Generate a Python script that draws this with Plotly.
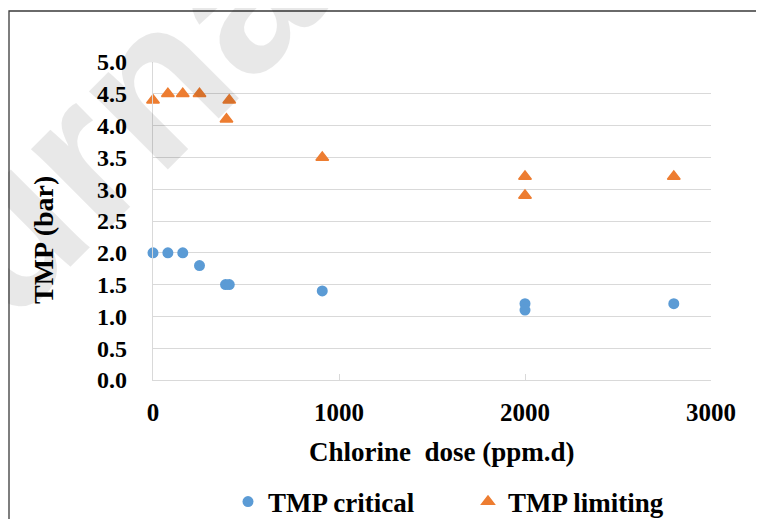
import plotly.graph_objects as go

# Data
dose_critical = [0, 80, 160, 250, 390, 410, 910, 2000, 2000, 2800]
tmp_critical = [2.0, 2.0, 2.0, 1.8, 1.5, 1.5, 1.4, 1.2, 1.1, 1.2]
dose_limiting = [0, 80, 160, 250, 395, 410, 910, 2000, 2000, 2800]
tmp_limiting = [4.4, 4.5, 4.5, 4.5, 4.1, 4.4, 3.5, 3.2, 2.9, 3.2]

x_ticks = [0, 1000, 2000, 3000]
y_ticks = [0.0, 0.5, 1.0, 1.5, 2.0, 2.5, 3.0, 3.5, 4.0, 4.5, 5.0]
y_tick_text = [f"{v:.1f}" for v in y_ticks]

x_title = "Chlorine\u00a0 dose (ppm.d)"
y_title = "TMP (bar)"

FONT = "Liberation Serif"
GRID = "#d9d9d9"

# page body adds an 8px margin; work in screen pixels and compensate
OFF = 8
W, H = 764 - OFF, 519 - OFF
L, R, T, B = 153 - OFF, 711 - OFF, 62 - OFF, 380 - OFF
pw, ph = R - L, B - T


def px(xs):
    return (xs - OFF - L) / pw


def py(ys):
    return (B - (ys - OFF)) / ph


fig = go.Figure()
fig.add_trace(go.Scatter(
    x=dose_critical, y=tmp_critical, mode="markers", name="TMP critical",
    marker=dict(symbol="circle", size=11, color="#5B9BD5"),
    cliponaxis=False,
))
fig.add_trace(go.Scatter(
    x=dose_limiting, y=tmp_limiting, mode="markers", name="TMP limiting",
    marker=dict(symbol="triangle-up", size=11, color="#ED7D31",
                line=dict(color="#ED7D31", width=1.5)),
    cliponaxis=False,
))

fig.update_layout(
    width=W, height=H,
    margin=dict(l=L, r=W - R, t=T, b=H - B, autoexpand=False),
    paper_bgcolor="white", plot_bgcolor="white",
    font=dict(family=FONT, color="black", size=24, weight="bold"),
    showlegend=True,
    legend=dict(
        orientation="h", x=px(228), y=py(502), xanchor="left", yanchor="middle",
        font=dict(family=FONT, size=27, color="black", weight="bold"),
        entrywidth=195, entrywidthmode="pixels",
        bgcolor="rgba(0,0,0,0)",
    ),
    xaxis=dict(
        range=[0, 3000], tickvals=x_ticks, ticktext=[str(v) for v in x_ticks],
        showgrid=False, zeroline=False,
        showline=True, linecolor=GRID, linewidth=1.3,
        ticks="inside", ticklen=6, tickcolor=GRID, tickwidth=1.3,
        ticklabelstandoff=10,
        tickfont=dict(family=FONT, size=25, color="black", weight="bold"),
        automargin=False,
    ),
    yaxis=dict(
        range=[0, 5], tickvals=y_ticks, ticktext=y_tick_text,
        showgrid=True, gridcolor=GRID, gridwidth=1.3,
        zeroline=False,
        showline=True, linecolor=GRID, linewidth=1.3,
        ticks="", ticklabelstandoff=20,
        tickfont=dict(family=FONT, size=24, color="black", weight="bold"),
        automargin=False,
    ),
    shapes=[dict(
        type="rect", xref="paper", yref="paper",
        x0=px(9), x1=px(800), y0=py(560), y1=py(11),
        line=dict(color="#3a3a3a", width=1.3), fillcolor="rgba(0,0,0,0)",
        layer="below",
    )],
    annotations=[
        dict(
            text="Journal", xref="paper", yref="paper",
            x=px(52), y=py(182), showarrow=False, textangle=-45,
            font=dict(family="Liberation Sans", size=210,
                      color="rgba(0,0,0,0.09)"),
            xanchor="center", yanchor="middle",
        ),
        dict(
            text=x_title, xref="paper", yref="paper",
            x=px(442), y=py(452), showarrow=False,
            font=dict(family=FONT, size=27, color="black", weight="bold"),
            xanchor="center", yanchor="middle",
        ),
        dict(
            text=y_title, xref="paper", yref="paper",
            x=px(43), y=py(240), showarrow=False, textangle=-90,
            font=dict(family=FONT, size=28, color="black", weight="bold"),
            xanchor="center", yanchor="middle",
        ),
    ],
)

fig.write_html("out.html")
